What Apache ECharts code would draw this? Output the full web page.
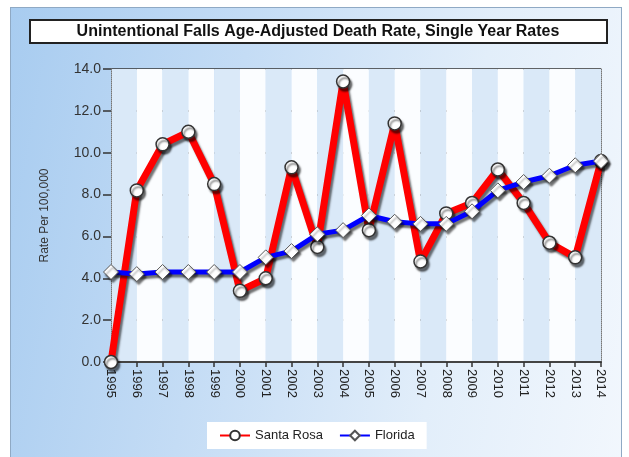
<!DOCTYPE html>
<html>
<head>
<meta charset="utf-8">
<script src="https://cdn.jsdelivr.net/npm/echarts@6/dist/echarts.min.js"></script>
<style>
  html, body { margin: 0; padding: 0; background: #fff; }
  #wrap { position: relative; width: 629px; height: 457px; overflow: hidden; }
  #panel {
    position: absolute; left: 10px; top: 7px; width: 610px; height: 470px;
    border: 1px solid #8fa9c4;
    background: linear-gradient(100deg, #a8ccf0 0%, #c4dcf5 35%, #e2eefa 70%, #f2f7fd 100%);
  }
  #chart { position: absolute; left: 0; top: 0; width: 629px; height: 457px; }
</style>
</head>
<body>
<div id="wrap">
  <div id="panel"></div>
  <div id="chart"></div>
</div>
<script>
// 数据
const years = ['1995', '1996', '1997', '1998', '1999', '2000', '2001', '2002', '2003', '2004',
               '2005', '2006', '2007', '2008', '2009', '2010', '2011', '2012', '2013', '2014'];
const santaRosa = [0.0, 8.2, 10.4, 11.0, 8.5, 3.4, 4.0, 9.3, 5.5, 13.4,
                   6.3, 11.4, 4.8, 7.1, 7.6, 9.2, 7.6, 5.7, 5.0, 9.6];
const florida = [4.3, 4.2, 4.3, 4.3, 4.3, 4.3, 5.0, 5.3, 6.1, 6.3,
                 7.0, 6.7, 6.6, 6.6, 7.2, 8.2, 8.6, 8.9, 9.4, 9.6];

const chart = echarts.init(document.getElementById('chart'));

const shadow = {
  shadowColor: 'rgba(0,0,0,0.55)',
  shadowBlur: 2,
  shadowOffsetX: 2,
  shadowOffsetY: 3
};

chart.setOption({
  backgroundColor: 'transparent',
  animation: false,
  textStyle: { fontFamily: 'Liberation Sans, Arial, sans-serif' },
  graphic: [{
    type: 'group',
    children: [
      {
        type: 'rect',
        shape: { x: 30, y: 20, width: 577, height: 23 },
        style: { fill: '#fff', stroke: '#222', lineWidth: 2 }
      },
      {
        type: 'text',
        x: 318, y: 31.5,
        style: {
          text: 'Unintentional Falls Age-Adjusted Death Rate, Single Year Rates',
          fill: '#111', font: 'bold 16px Liberation Sans, Arial, sans-serif',
          align: 'center', verticalAlign: 'middle'
        }
      }
    ]
  }],
  grid: { left: 111, right: 28, top: 69, bottom: 95 },
  legend: {
    bottom: 8,
    left: 207,
    backgroundColor: '#fff',
    padding: [7, 12, 7, 12],
    itemGap: 16,
    itemWidth: 30,
    itemHeight: 12,
    textStyle: { fontSize: 13, color: '#222' },
    data: ['Santa Rosa', 'Florida']
  },
  xAxis: {
    type: 'category',
    data: years,
    boundaryGap: false,
    axisLine: { lineStyle: { color: '#444', width: 2 } },
    axisTick: { show: true, length: 5, lineStyle: { color: '#333', width: 1.5 } },
    axisLabel: { rotate: -90, margin: 7, fontSize: 13, color: '#222' },
    splitLine: { show: false },
    splitArea: { show: true, areaStyle: { color: ['#dae9f8', '#fbfdff'] } }
  },
  yAxis: [{
    type: 'value',
    min: 0, max: 14, interval: 2,
    name: 'Rate Per 100,000',
    nameLocation: 'middle',
    nameGap: 60,
    nameTextStyle: { fontSize: 12, color: '#333' },
    axisLine: { show: true, lineStyle: { color: '#777', type: 'dotted', width: 1 } },
    axisTick: { show: true, length: 8, lineStyle: { color: '#333', width: 1.5 } },
    axisLabel: { fontSize: 14, color: '#333', margin: 10, formatter: v => v.toFixed(1) },
    splitLine: { lineStyle: { color: '#333', width: 1.5 } }
  }, {
    type: 'value',
    position: 'right',
    min: 0, max: 14, interval: 2,
    axisLine: { show: true, lineStyle: { color: '#777', type: 'dotted', width: 1 } },
    axisTick: { show: false },
    axisLabel: { show: false },
    splitLine: { show: false }
  }],
  series: [
    {
      name: 'Santa Rosa',
      type: 'line',
      data: santaRosa,
      symbol: 'circle',
      symbolSize: 13,
      lineStyle: Object.assign({ color: '#ff0000', width: 7 }, shadow),
      itemStyle: Object.assign({ color: '#fff', borderColor: '#333', borderWidth: 1.5 }, shadow),
      z: 3
    },
    {
      name: 'Florida',
      type: 'line',
      data: florida,
      symbol: 'diamond',
      symbolSize: 15,
      lineStyle: Object.assign({ color: '#0000ff', width: 5 }, shadow),
      itemStyle: Object.assign({ color: '#fff', borderColor: '#555', borderWidth: 1 }, shadow),
      z: 4
    }
  ]
});
</script>
</body>
</html>
